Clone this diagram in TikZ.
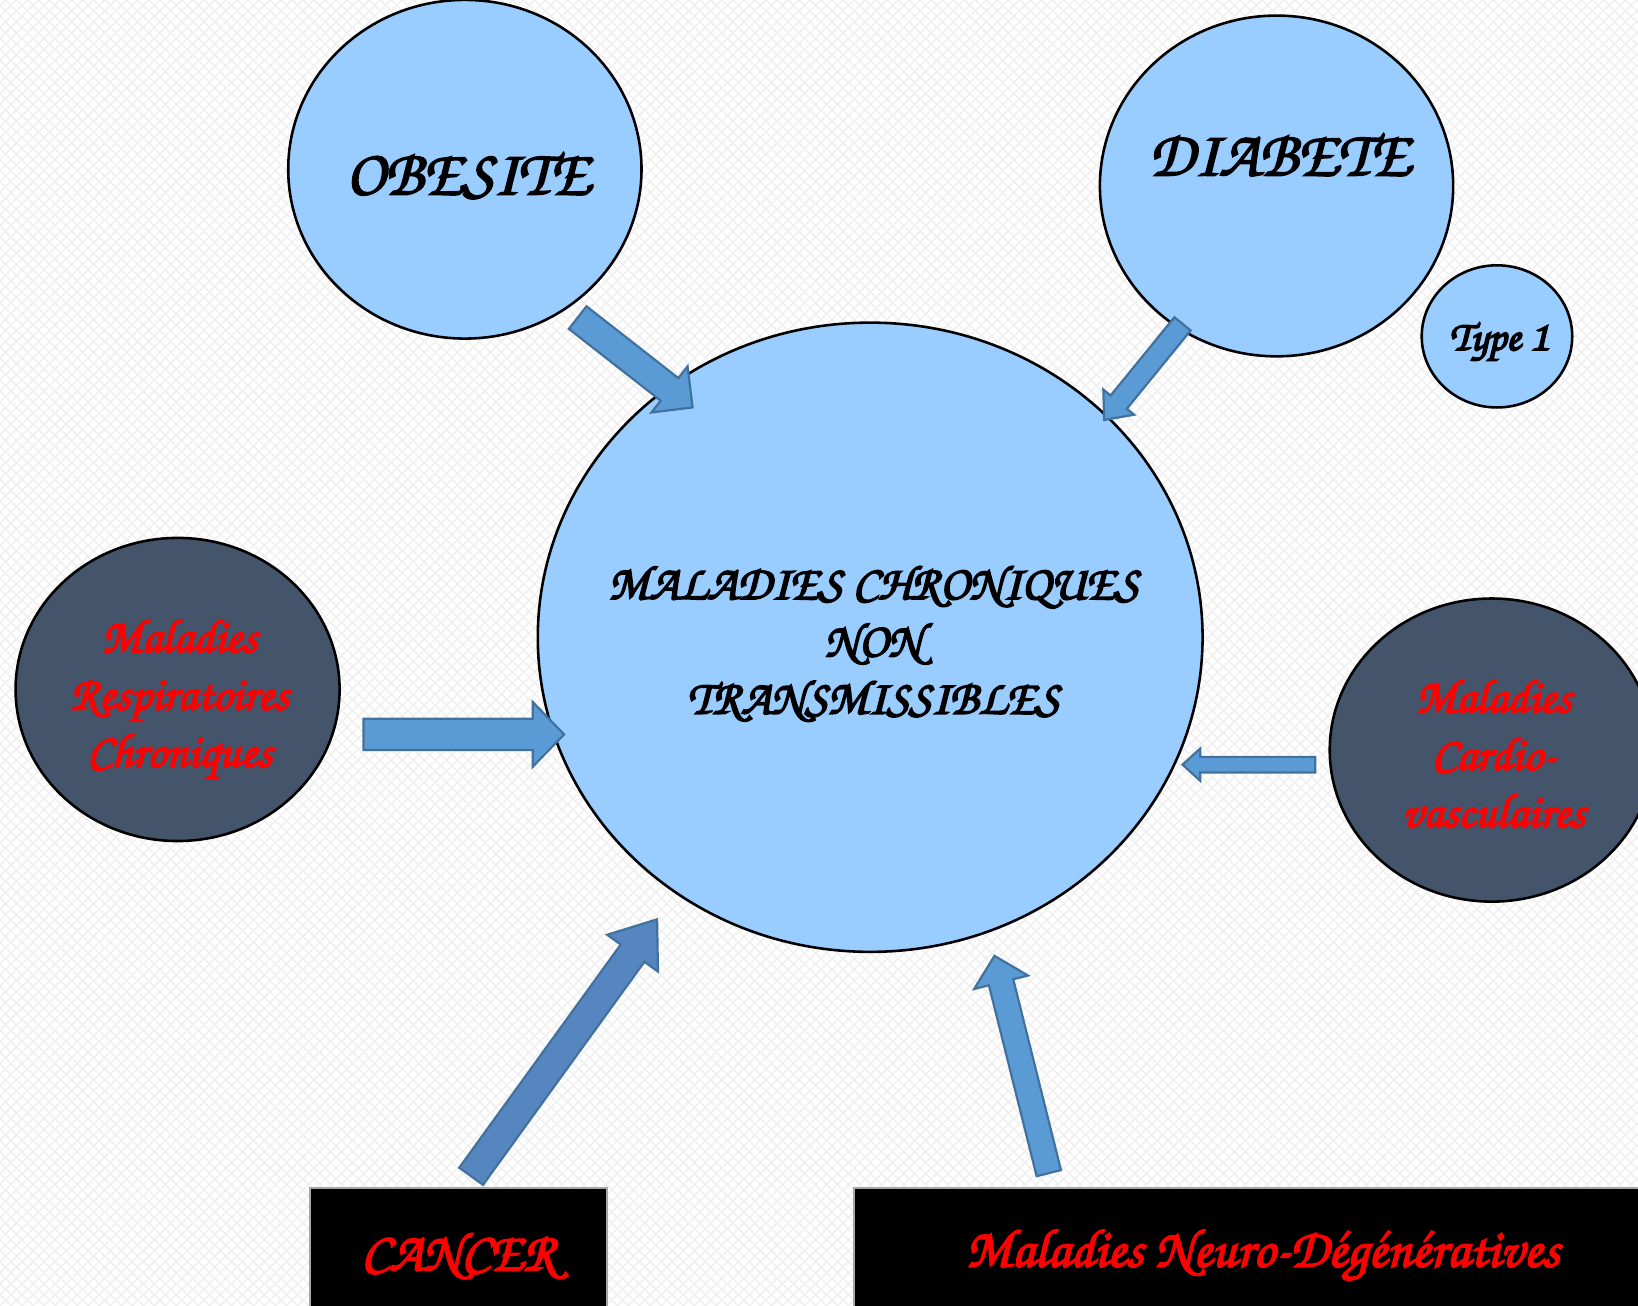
\documentclass[tikz,border=0pt]{standalone}
\usepackage[T1]{fontenc}
\usepackage{tikz}
\usetikzlibrary{shapes.geometric, calc, patterns}

\definecolor{bulle}{HTML}{99CCFF}
\definecolor{ardoise}{HTML}{44546A}
\definecolor{fleche}{HTML}{5B9BD5}
\definecolor{flechebord}{HTML}{41719C}
\definecolor{flechefonce}{HTML}{5586C0}

\newcommand{\corsiva}{\fontencoding{T1}\fontfamily{pzc}\fontseries{mb}\fontshape{it}\selectfont}

% block arrow: [options]{tail}{tip}{half shaft}{half head}{head length}
\newcommand{\blockarrow}[6][]{%
  \coordinate (ah) at ($(#3)!#6!(#2)$);
  \draw[arrowfill, #1] ($(#2)!#4!90:(#3)$) -- ($(ah)!#4!90:(#3)$) -- ($(ah)!#5!90:(#3)$) -- (#3)
    -- ($(ah)!#5!-90:(#3)$) -- ($(ah)!#4!-90:(#3)$) -- ($(#2)!#4!-90:(#3)$) -- cycle;
}

\begin{document}
\begin{tikzpicture}[x=0.01cm, y=-0.01cm,
  bubble/.style={ellipse, draw=black, line width=0.7pt, fill=bulle, inner sep=0pt},
  darkbubble/.style={ellipse, draw=black, line width=0.7pt, fill=ardoise, inner sep=0pt},
  blackbox/.style={rectangle, fill=black, draw=gray!70, line width=0.6pt, inner sep=0pt},
  arrowfill/.style={fill=fleche, draw=flechebord, line width=0.6pt, line join=miter},
  heavy/.style={execute at begin node={\special{pdf:literal direct 2 Tr 0.45 w}}},
  bigtxt/.style={heavy, font=\corsiva\fontsize{17.6}{20}\selectfont, text=black},
  midtxt/.style={heavy, font=\corsiva\fontsize{13.2}{15.6}\selectfont, align=center},
  redtxt/.style={heavy, font=\corsiva\fontsize{13}{15.6}\selectfont, text=red, align=center},
  boxtxt/.style={heavy, font=\corsiva\fontsize{14.8}{16}\selectfont, text=red}]
\useasboundingbox (0,0) rectangle (1568,1250);
\clip (0,0) rectangle (1568,1250);
\fill[white] (0,0) rectangle (1568,1250);
\fill[pattern=north east lines, pattern color=black!6] (0,0) rectangle (1568,1250);
\fill[pattern=north west lines, pattern color=black!6] (0,0) rectangle (1568,1250);

% bubbles
\node[bubble, minimum width=6.36cm, minimum height=6.02cm] (mct) at (833,610) {};
\node[bubble, minimum width=3.38cm, minimum height=3.24cm] (obesite) at (445,162) {};
\node[bubble, minimum width=3.38cm, minimum height=3.26cm] (diabete) at (1222,178) {};
\node[bubble, minimum width=1.44cm, minimum height=1.36cm] (type1) at (1433,322) {};
\node[darkbubble, minimum width=3.10cm, minimum height=2.90cm] (respi) at (170,660) {};
\node[darkbubble, minimum width=3.10cm, minimum height=2.90cm] (cardio) at (1428,718) {};
\node[blackbox, minimum width=2.84cm, minimum height=1.30cm, boxtxt] (cancer) at (439,1202) {CANCER};
\node[blackbox, minimum width=7.82cm, minimum height=1.30cm, boxtxt] (neuro) at (1209,1202) {Maladies Neuro-D\'eg\'en\'eratives};

% texts
\node[bigtxt] (obesitetxt) at (448,168) {OBESITE};
\node[bigtxt] (diabetetxt) at (1225,148) {DIABETE};
\node[midtxt, font=\corsiva\fontsize{11.5}{14}\selectfont] (type1txt) at (1435,328) {Type 1};
\node[midtxt] (mcttxt) at (836,616) {MALADIES CHRONIQUES\\NON\\TRANSMISSIBLES};
\node[redtxt] (respitxt) at (172,670) {Maladies\\Respiratoires\\Chroniques};
\node[redtxt] (cardiotxt) at (1430,721) {Maladies\\Cardio-\\vasculaires};

% arrows
\coordinate (obA) at (553,304);
\coordinate (obB) at (663,390);
\blockarrow{obA}{obB}{0.137cm}{0.28cm}{0.28cm}
\coordinate (diA) at (1132,310);
\coordinate (diB) at (1057,402);
\blockarrow{diA}{diB}{0.10cm}{0.19cm}{0.22cm}
\coordinate (reA) at (348,703);
\coordinate (reB) at (540,703);
\blockarrow{reA}{reB}{0.15cm}{0.31cm}{0.30cm}
\coordinate (caA) at (1259,732);
\coordinate (caB) at (1132,732);
\blockarrow{caA}{caB}{0.075cm}{0.155cm}{0.17cm}
\coordinate (cnA) at (451,1126);
\coordinate (cnB) at (629,880);
\blockarrow[fill=flechefonce]{cnA}{cnB}{0.14cm}{0.30cm}{0.40cm}
\coordinate (neA) at (1004,1123);
\coordinate (neB) at (952,915);
\blockarrow{neA}{neB}{0.12cm}{0.265cm}{0.26cm}
\end{tikzpicture}
\end{document}
